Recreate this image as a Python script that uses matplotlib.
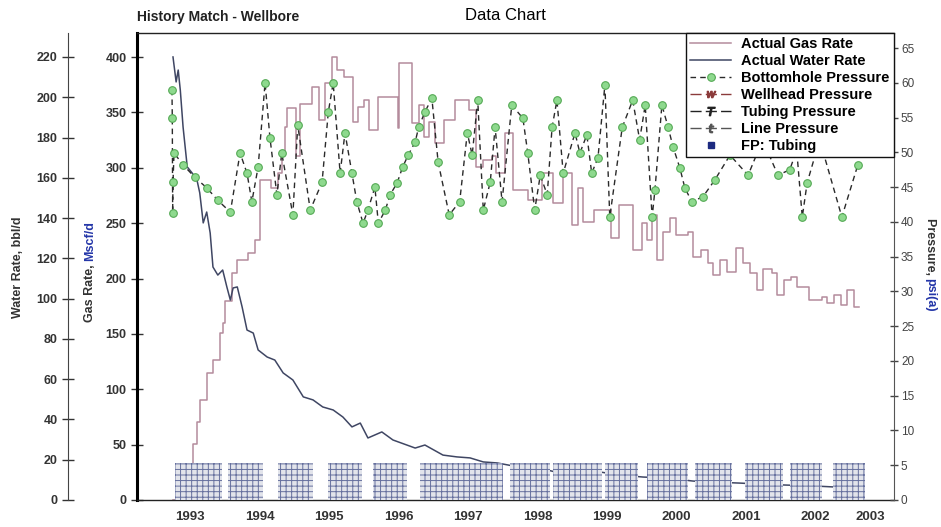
import matplotlib.pyplot as plt
from matplotlib.lines import Line2D

plt.rcParams['font.family'] = ['Liberation Sans', 'DejaVu Sans']
plt.rcParams['hatch.linewidth'] = 0.7

# Values (dates as decimal years)
water_years = [1992.755, 1992.80, 1992.83, 1992.86, 1992.90, 1992.96, 1993.03, 1993.10,
               1993.14, 1993.19, 1993.24, 1993.29, 1993.33, 1993.40, 1993.47, 1993.53,
               1993.58, 1993.62, 1993.68, 1993.75, 1993.82, 1993.91, 1993.98, 1994.11,
               1994.22, 1994.34, 1994.48, 1994.63, 1994.77, 1994.91, 1995.06, 1995.20,
               1995.33, 1995.45, 1995.56, 1995.76, 1995.92, 1996.24, 1996.38, 1996.64,
               1996.84, 1997.03, 1997.22, 1997.42, 1997.65, 1997.85, 1998.14, 1998.32,
               1998.51, 1998.61, 1998.90, 1999.19, 1999.52, 1999.86, 2000.24, 2000.53,
               2000.91, 2001.20, 2001.59, 2001.96, 2002.25, 2002.54]
water_bbl = [220.0, 207.6, 213.5, 203.6, 185.2, 165.4, 162.4, 158.9,
             152.5, 137.6, 143.0, 132.6, 115.7, 111.7, 114.2, 105.8,
             99.3, 105.3, 105.8, 95.8, 84.4, 82.9, 74.5, 71.0,
             69.5, 63.1, 59.6, 51.2, 49.7, 46.2, 44.7, 41.2,
             36.3, 38.2, 30.8, 33.8, 29.8, 25.8, 27.3, 22.3,
             21.4, 20.9, 18.9, 18.4, 16.9, 15.9, 14.9, 13.4,
             14.9, 13.9, 13.9, 12.4, 11.4, 10.9, 9.4, 8.9,
             8.4, 7.9, 7.4, 7.0, 6.5, 7.0]

gas_years = [1992.75, 1992.91, 1993.04, 1993.10, 1993.14, 1993.24, 1993.33, 1993.43,
             1993.47, 1993.50, 1993.60, 1993.68, 1993.83, 1993.94, 1994.01, 1994.16,
             1994.26, 1994.33, 1994.37, 1994.40, 1994.53, 1994.58, 1994.75, 1994.86,
             1994.94, 1995.04, 1995.11, 1995.22, 1995.35, 1995.42, 1995.50, 1995.57,
             1995.70, 1995.99, 1996.01, 1996.19, 1996.29, 1996.37, 1996.44, 1996.52,
             1996.66, 1996.81, 1997.01, 1997.12, 1997.22, 1997.34, 1997.41, 1997.53,
             1997.65, 1997.87, 1998.06, 1998.23, 1998.37, 1998.49, 1998.59, 1998.66,
             1998.82, 1999.06, 1999.17, 1999.37, 1999.50, 1999.57, 1999.65, 1999.72,
             1999.81, 1999.91, 1999.99, 2000.16, 2000.24, 2000.35, 2000.45, 2000.53,
             2000.63, 2000.73, 2000.85, 2000.96, 2001.06, 2001.16, 2001.24, 2001.37,
             2001.45, 2001.55, 2001.65, 2001.74, 2001.91, 2002.09, 2002.17, 2002.27,
             2002.37, 2002.45, 2002.56, 2002.63]
gas_mscf = [0, 8, 51, 70, 90, 115, 126, 151,
            160, 180, 205, 217, 223, 235, 289, 282,
            295, 313, 337, 354, 311, 358, 373, 343,
            377, 400, 388, 382, 341, 355, 361, 334,
            364, 336, 395, 340, 357, 328, 341, 322,
            343, 361, 352, 301, 307, 311, 295, 331,
            280, 271, 295, 268, 295, 248, 282, 251,
            262, 237, 266, 226, 250, 235, 257, 217,
            242, 255, 239, 242, 219, 226, 214, 203,
            217, 206, 228, 214, 205, 190, 209, 205,
            185, 199, 201, 192, 181, 183, 178, 185,
            176, 190, 174, 174]

bhp_years = [1992.74, 1992.745, 1992.75, 1992.755, 1992.77, 1992.90, 1993.07, 1993.24,
             1993.40, 1993.58, 1993.72, 1993.82, 1993.89, 1993.98, 1994.08, 1994.15,
             1994.25, 1994.32, 1994.48, 1994.55, 1994.73, 1994.90, 1994.99, 1995.06,
             1995.16, 1995.23, 1995.33, 1995.40, 1995.49, 1995.56, 1995.66, 1995.71,
             1995.81, 1995.88, 1995.98, 1996.06, 1996.14, 1996.24, 1996.29, 1996.38,
             1996.48, 1996.57, 1996.73, 1996.88, 1996.99, 1997.06, 1997.14, 1997.22,
             1997.32, 1997.39, 1997.49, 1997.63, 1997.79, 1997.86, 1997.96, 1998.04,
             1998.14, 1998.21, 1998.28, 1998.37, 1998.54, 1998.61, 1998.71, 1998.78,
             1998.87, 1998.97, 1999.04, 1999.22, 1999.37, 1999.47, 1999.55, 1999.65,
             1999.69, 1999.79, 1999.88, 1999.95, 2000.05, 2000.12, 2000.22, 2000.38,
             2000.55, 2000.77, 2001.03, 2001.24, 2001.46, 2001.63, 2001.73, 2001.81,
             2001.88, 2002.06, 2002.38, 2002.61]
bhp_psi = [59.0, 54.9, 41.3, 45.7, 49.9, 48.2, 46.4, 44.9,
           43.1, 41.4, 49.9, 47.0, 42.9, 47.9, 60.0, 52.1,
           43.9, 49.9, 41.0, 53.9, 41.7, 45.7, 55.8, 60.0,
           47.0, 52.8, 47.0, 42.9, 39.8, 41.7, 45.0, 39.8,
           41.7, 43.9, 45.6, 47.9, 49.6, 51.5, 53.6, 55.8,
           57.8, 48.6, 41.0, 42.9, 52.8, 49.6, 57.5, 41.7,
           45.7, 53.6, 42.9, 56.8, 54.9, 49.9, 41.7, 46.7,
           43.9, 53.6, 57.5, 47.0, 52.8, 49.9, 52.5, 47.0,
           49.2, 59.7, 40.7, 53.6, 57.5, 51.8, 56.8, 40.7,
           44.6, 56.8, 53.6, 50.8, 47.7, 44.9, 42.9, 43.6,
           46.0, 49.6, 46.7, 51.8, 46.7, 47.5, 50.3, 40.7,
           45.6, 51.8, 40.7, 48.2]

# FP: Tubing readings, shown as dense blocks from 0 to ~5 psi
fp_start = [1992.78, 1993.55, 1994.27, 1994.99, 1995.63, 1996.31, 1997.60, 1998.22,
            1998.97, 1999.58, 2000.27, 2000.99, 2001.63, 2002.25]
fp_end = [1993.46, 1994.05, 1994.77, 1995.47, 1996.12, 1997.50, 1998.18, 1998.93,
          1999.45, 2000.17, 2000.80, 2001.53, 2002.09, 2002.71]
fp_psi = [5.3, 5.3, 5.3, 5.3, 5.3, 5.3, 5.3, 5.3, 5.3, 5.3, 5.3, 5.3, 5.3, 5.3]

year_ticks = list(range(1993, 2004))
water_ticks = list(range(0, 221, 20))
gas_ticks = list(range(0, 401, 50))
pressure_ticks = list(range(0, 66, 5))

gas_color = '#b48b9c'
water_color = '#3f4663'
tick_color = '#333333'

fig = plt.figure(figsize=(9.41, 5.27), dpi=100)
ax = fig.add_axes([137 / 941, 27 / 527, 757 / 941, 467 / 527])

# gas rate (inner left axis)
gas_line, = ax.plot(gas_years, gas_mscf, drawstyle='steps-post', color=gas_color, lw=1.1)
ax.set_xlim(1992.237, 2003.13)
ax.set_ylim(0, 421.7)
ax.set_yticks(gas_ticks)
ax.set_xticks(year_ticks)
labels = ax.set_xticklabels([str(y) for y in year_ticks])
labels[-1].set_horizontalalignment('right')
ax.tick_params(axis='x', length=0, pad=8, labelsize=9.5, colors=tick_color)
ax.tick_params(axis='y', direction='inout', length=9, width=1, labelsize=9, colors=tick_color,
               pad=3)
for lab in ax.get_xticklabels() + ax.get_yticklabels():
    lab.set_fontweight('bold')
ax.spines['left'].set_linewidth(2.2)
ax.spines['right'].set_visible(False)
for s in ['top', 'bottom']:
    ax.spines[s].set_linewidth(1.0)
    ax.spines[s].set_color('#222222')

# water rate (outer left axis), 69 px left of the gas axis
ax_w = ax.twinx()
water_line, = ax_w.plot(water_years, water_bbl, color=water_color, lw=1.1)
ax_w.set_ylim(0, 231.9)
ax_w.set_yticks(water_ticks)
ax_w.spines['left'].set_position(('outward', 69 * 0.72))
ax_w.spines['left'].set_color('#444444')
ax_w.yaxis.set_ticks_position('left')
for s in ['right', 'top', 'bottom']:
    ax_w.spines[s].set_visible(False)
ax_w.tick_params(axis='y', direction='inout', length=9, width=1, labelsize=9, colors=tick_color,
                 pad=3)
for lab in ax_w.get_yticklabels():
    lab.set_fontweight('bold')

# pressure (right axis)
ax_p = ax.twinx()
fp_width = [e - s for s, e in zip(fp_start, fp_end)]
ax_p.bar(fp_start, fp_psi, width=fp_width, bottom=0, align='edge',
         color='#e2e4eb', edgecolor='#66709e', hatch='+++', linewidth=0)
bhp_line, = ax_p.plot(bhp_years, bhp_psi, color='#2a2a2a', lw=1.0, ls=(0, (4, 3)),
                      marker='o', markersize=5.5, markerfacecolor='#8ed98e',
                      markeredgecolor='#55aa55', markeredgewidth=0.8)
ax_p.set_ylim(0, 67.16)
ax_p.set_yticks(pressure_ticks)
for s in ['left', 'top', 'bottom']:
    ax_p.spines[s].set_visible(False)
ax_p.spines['right'].set_color('#555555')
ax_p.tick_params(axis='y', direction='inout', length=6, width=1, labelsize=8.5,
                 colors='#444444', pad=2)

handles = [
    gas_line,
    water_line,
    bhp_line,
    Line2D([], [], color='#8b3b3b', lw=1, ls=(0, (8, 3)), marker='$w$', markersize=6),
    Line2D([], [], color='#222222', lw=1, ls=(0, (8, 3)), marker='$T$', markersize=6),
    Line2D([], [], color='#555555', lw=1, ls=(0, (8, 3)), marker='$t$', markersize=6),
    Line2D([], [], color='#1c2a80', ls='none', marker='s', markersize=5),
]
names = ['Actual Gas Rate', 'Actual Water Rate', 'Bottomhole Pressure', 'Wellhead Pressure',
         'Tubing Pressure', 'Line Pressure', 'FP: Tubing']
leg = ax_p.legend(handles, names, loc='upper right', bbox_to_anchor=(1, 1), borderaxespad=0,
                  fancybox=False, framealpha=1, edgecolor='#111111', handlelength=2.8,
                  handletextpad=0.7, labelspacing=0.2, borderpad=0.3,
                  prop={'size': 10.5, 'weight': 'bold'})
leg.get_frame().set_linewidth(1.0)

# titles
fig.text(505 / 941, 1 - 15 / 527, 'Data Chart', ha='center', va='center', fontsize=12)
fig.text(137 / 941, 1 - 17 / 527, 'History Match - Wellbore', ha='left', va='center',
         fontsize=10, fontweight='bold', color='#222222')

# axis titles, with the unit part in blue where the picture has it
lab_kw = dict(fontsize=9, fontweight='bold', color='#333333')
fig.text(18 / 941, 1 - 267 / 527, 'Water Rate, bbl/d', rotation=90, ha='center', va='center', **lab_kw)
fig.canvas.draw()
r = fig.canvas.get_renderer()
inv = fig.transFigure.inverted()
t1 = fig.text(90 / 941, 1 - 322 / 527, 'Gas Rate, ', rotation=90, ha='center', va='bottom', **lab_kw)
bb = t1.get_window_extent(r).transformed(inv)
fig.text(90 / 941, bb.y1, 'Mscf/d', rotation=90, ha='center', va='bottom',
         fontsize=9, fontweight='bold', color='#2436a8')
t2 = fig.text(930 / 941, 1 - 218 / 527, 'Pressure, ', rotation=270, ha='center', va='top', **lab_kw)
bb = t2.get_window_extent(r).transformed(inv)
fig.text(930 / 941, bb.y0, 'psi(a)', rotation=270, ha='center', va='top',
         fontsize=9, fontweight='bold', color='#2436a8')

fig.savefig('out.png', dpi=100)
